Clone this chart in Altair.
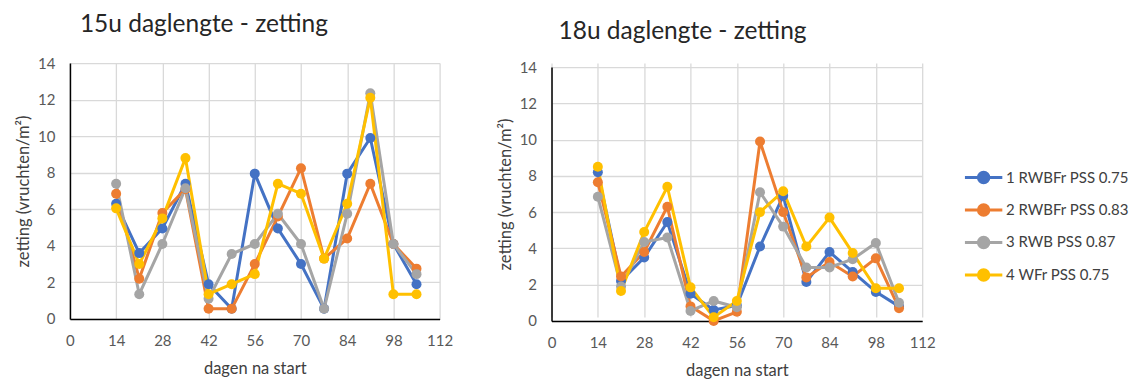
import altair as alt
import pandas as pd

days = [14, 21, 28, 35, 42, 49, 56, 63, 70, 77, 84, 91, 98, 105]
series_names = ["1 RWBFr PSS 0.75", "2 RWBFr PSS 0.83", "3 RWB PSS 0.87", "4 WFr PSS 0.75"]
colors = ["#4472C4", "#ED7D31", "#A5A5A5", "#FFC000"]
x_ticks = [0, 14, 28, 42, 56, 70, 84, 98, 112]
y_ticks = [0, 2, 4, 6, 8, 10, 12, 14]

# 15u daglengte
h15_s1 = [6.3, 3.6, 4.95, 7.4, 1.9, 0.55, 7.95, 4.95, 3.0, 0.55, 7.95, 9.9, 4.1, 1.9]
h15_s2 = [6.85, 2.2, 5.8, 7.1, 0.55, 0.55, 3.0, 5.6, 8.25, 3.3, 4.4, 7.4, 4.1, 2.75]
h15_s3 = [7.4, 1.35, 4.1, 7.15, 1.1, 3.55, 4.1, 5.75, 4.1, 0.55, 5.75, 12.35, 4.1, 2.45]
h15_s4 = [6.05, 3.0, 5.5, 8.8, 1.35, 1.9, 2.45, 7.4, 6.85, 3.3, 6.3, 12.1, 1.35, 1.35]

# 18u daglengte
h18_s1 = [8.2, 2.2, 3.5, 5.45, 1.5, 0.6, 0.85, 4.1, 6.9, 2.15, 3.8, 2.7, 1.6, 0.8]
h18_s2 = [7.65, 2.45, 3.8, 6.3, 0.8, 0.0, 0.5, 9.9, 6.0, 2.4, 3.25, 2.45, 3.45, 0.7]
h18_s3 = [6.85, 1.9, 4.35, 4.6, 0.55, 1.1, 0.75, 7.1, 5.2, 2.95, 2.95, 3.4, 4.3, 1.0]
h18_s4 = [8.5, 1.65, 4.9, 7.4, 1.85, 0.2, 1.1, 6.0, 7.15, 4.1, 5.7, 3.75, 1.8, 1.8]


def make_df(series_lists):
    rows = []
    for name, vals in zip(series_names, series_lists):
        for d, v in zip(days, vals):
            rows.append({"dag": d, "zetting": v, "serie": name})
    return pd.DataFrame(rows)


df15 = make_df([h15_s1, h15_s2, h15_s3, h15_s4])
df18 = make_df([h18_s1, h18_s2, h18_s3, h18_s4])

FONT = "Lato"

legend_shape = "M-1,0H1M0.28,0A0.28,0.28 0 1,1 -0.28,0A0.28,0.28 0 1,1 0.28,0Z"


def panel(df, title, dx, offset, width, height, y_range, show_legend):
    if show_legend:
        legend = alt.Legend(
            title=None, orient="none", legendX=412, legendY=94,
            symbolType=legend_shape, symbolSize=1400, symbolStrokeWidth=3,
            labelFont=FONT, labelFontSize=15, labelColor="#404040",
            labelOffset=2, rowPadding=0.5, symbolOpacity=1,
        )
    else:
        legend = None
    return alt.Chart(df).mark_line(
        strokeWidth=3,
        point=alt.OverlayMarkDef(size=100, filled=True, opacity=1),
    ).encode(
        x=alt.X("dag:Q", scale=alt.Scale(domain=[0, 112], nice=False),
                axis=alt.Axis(values=x_ticks, title="dagen na start")),
        y=alt.Y("zetting:Q", scale=alt.Scale(domain=[0, 14], nice=False, range=y_range),
                axis=alt.Axis(values=y_ticks, title="zetting (vruchten/m²)")),
        color=alt.Color("serie:N", scale=alt.Scale(domain=series_names, range=colors),
                        legend=legend),
    ).properties(
        width=width, height=height,
        title=alt.TitleParams(title, anchor="start", frame="group", dx=dx, fontSize=24.5,
                              font=FONT, fontWeight="normal", color="#262626",
                              offset=offset),
    )


left = panel(df15, "15u daglengte - zetting", 10, 18.5, 370, 256, [256, 0], False)
right = panel(df18, "18u daglengte - zetting", 7, 15.5, 371, 258, [258, 4], True)

chart = alt.hconcat(left, right, spacing=43).resolve_legend(color="independent").configure(
    font=FONT, padding={"left": 15, "top": 12, "right": 0, "bottom": 0}
).configure_view(stroke=None).configure_axis(
    grid=True, gridColor="#d9d9d9", gridWidth=1.3,
    domainColor="#000000", domainWidth=1.5,
    ticks=False, tickSize=0, labelFlush=False,
    labelFont=FONT, labelFontSize=15, labelColor="#595959",
    titleFont=FONT, titleFontSize=16.5, titleColor="#404040", titleFontWeight="normal",
).configure_axisY(labelPadding=15, titlePadding=6).configure_axisX(labelPadding=15, titlePadding=12)

chart.save("out.html", embed_options={"renderer": "svg", "actions": False})
